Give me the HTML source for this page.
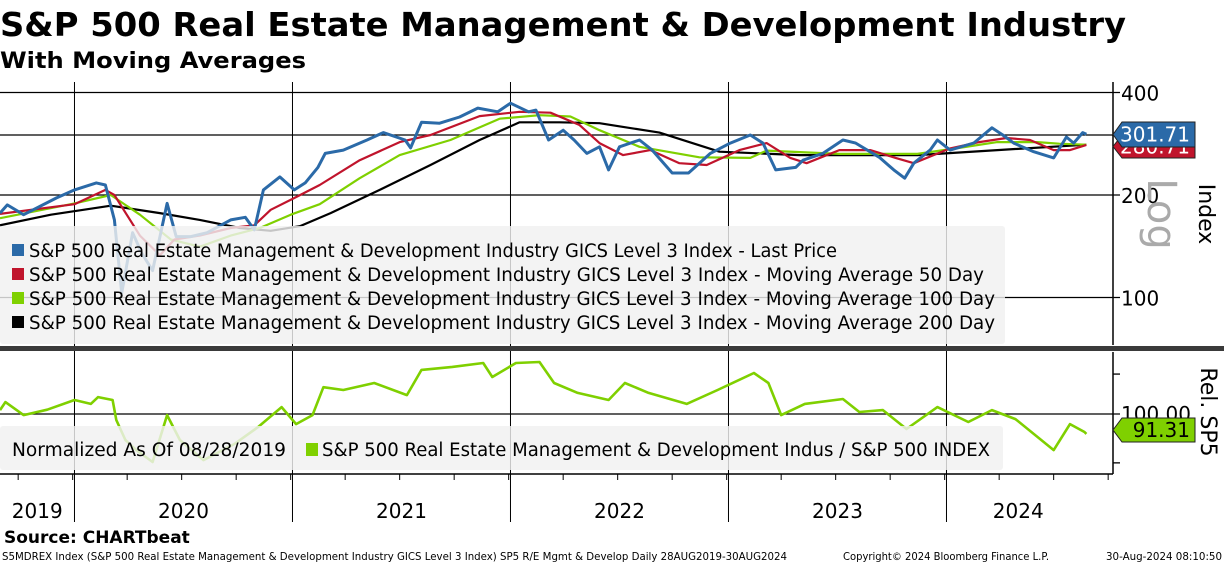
<!DOCTYPE html>
<html><head><meta charset="utf-8"><style>
body{margin:0;background:#fff;width:1224px;height:565px;overflow:hidden;font-family:"DejaVu Sans","Liberation Sans",sans-serif}
svg text{font-family:"DejaVu Sans","Liberation Sans",sans-serif}
</style></head><body>
<svg id="c" width="1224" height="565" xmlns="http://www.w3.org/2000/svg">
<text x="0" y="36" font-size="33" font-weight="bold" textLength="1126" lengthAdjust="spacingAndGlyphs">S&amp;P 500 Real Estate Management &amp; Development Industry</text>
<text x="0" y="68" font-size="22" font-weight="bold" textLength="306" lengthAdjust="spacingAndGlyphs">With Moving Averages</text>
<g id="grid"></g>
<g id="series"></g>
<g id="overlay"></g>
</svg>
<script>
const priceMonths=[0,0.4,1.3,3.1,4.1,5.3,5.8,6.3,6.7,7.3,7.8,8.4,9.2,9.7,10.5,11.4,12.7,13.5,14.0,14.5,15.4,16.2,16.8,17.5,17.9,18.9,20.2,21.1,22.3,22.6,23.2,24.2,25.3,26.3,27.4,28.1,29.1,29.5,30.2,31.0,31.6,32.3,33.0,33.5,34.1,35.2,35.9,37.0,37.9,38.5,39.1,40.2,41.3,42.0,42.7,43.8,44.2,45.3,46.4,47.1,48.4,49.2,49.8,50.3,51.2,51.6,52.3,53.6,54.6,55.2,55.8,56.9,58.0,58.7,59.1,59.6,59.8];
const priceValues=[177,187,175,196,207,217,214,169,103,155,135,120,189,151,151,155,169,172,158,207,226,207,217,241,265,271,290,305,290,275,327,325,339,360,351,372,351,355,290,310,290,265,277,237,277,290,271,232,232,248,265,284,300,284,237,241,253,265,290,284,258,237,224,248,271,290,271,284,315,300,284,268,257,296,284,305,301.71];
const ma50Months=[0,4.1,5.8,6.3,7.7,8.8,9.6,11.0,12.7,14.0,14.9,16.2,17.6,19.8,22.0,23.7,26.4,28.6,30.3,31.9,33.0,34.3,35.8,37.4,38.9,40.7,42.2,43.5,44.4,46.2,47.9,49.3,50.3,52.3,53.9,55.4,56.7,58.0,58.9,59.8];
const ma50Values=[176,188,207,200,152,133,148,152,160,163,181,196,214,253,286,300,341,351,349,321,284,262,271,248,245,271,284,257,248,271,271,257,248,274,286,294,290,271,271,280.71];
const ma100Months=[0,4.1,6.1,7.7,9.4,11.0,12.7,14.3,16.0,17.6,19.8,22.0,24.8,27.5,29.7,31.4,33.0,35.2,38.5,41.3,42.2,46.2,50.5,52.8,54.9,57.1,58.3,59.8];
const ma100Values=[171,189,200,175,148,141,152,160,175,188,224,262,290,335,343,340,310,277,258,257,270,264,264,275,286,286,283,281];
const ma200Months=[0,2.8,6.1,8.8,11.0,13.2,14.9,16.5,18.2,20.9,23.7,26.4,28.6,30.8,33.0,36.3,39.6,44.0,50.5,54.9,59.8];
const ma200Values=[163,175,186,177,169,160,157,162,177,207,245,290,327,327,325,305,268,262,262,271,281];
const relMonths=[0,0.3,1.3,2.6,4.1,5.0,5.4,6.2,6.4,6.9,7.5,8.4,9.2,9.9,11.2,12.9,14.2,15.5,16.3,17.2,17.8,18.9,20.6,22.4,23.2,24.9,26.6,27.1,28.4,29.7,30.5,31.8,33.5,34.4,35.7,37.8,39.5,41.5,42.3,43.0,44.3,46.4,47.3,48.6,49.9,51.6,53.3,54.6,55.9,58.0,58.9,59.7,59.8];
const relValues=[101.8,105.6,99.5,102,106.6,104.7,108,106.6,97.3,88.8,84.8,80.3,99.5,88.8,81,87.2,94.2,103.2,95.5,99.5,113,111.6,115.2,109,122.3,124,126.2,118.4,126.2,126.8,115.2,110.1,106.6,115.2,110.1,104.7,111.6,120.6,115.2,99.5,104.7,107.1,100.9,101.8,93.4,103.2,96.4,101.8,97.7,84.8,95.5,92.1,91.31];
const yearLabels=["2019","2020","2021","2022","2023","2024"];
const yearStartMonths=[4.1,16.1,28.1,40.1,52.1];
const topTicks=[100,200,300,400];
const topTickLabels=["100","200","","400"];
const relTicks=[80,100,120];

const NS="http://www.w3.org/2000/svg";
const X=m=>m*218/12;
const YT=v=>195-147.9*Math.log(v/200);
const YB=v=>414-219*Math.log(v/100);
function mk(tag,attrs,parent,txt){const e=document.createElementNS(NS,tag);for(const k in attrs)e.setAttribute(k,attrs[k]);if(txt!==undefined)e.textContent=txt;parent.appendChild(e);return e;}
const grid=document.getElementById('grid'),ser=document.getElementById('series'),ov=document.getElementById('overlay');

topTicks.forEach((t,i)=>{
 const l=mk('line',{x1:0,x2:1120,y1:YT(t),y2:YT(t),stroke:'#000','stroke-width':1.3},grid);
 
 
 if(topTickLabels[i]){const tx=mk('text',{x:1121,y:YT(t)+8,'font-size':20},grid,topTickLabels[i]);
 
 }
});
relTicks.forEach(t=>{
 const l=mk('line',{x1:t===100?0:1113,x2:1120,y1:YB(t),y2:YB(t),stroke:'#000','stroke-width':1.3},grid);
 
 
});
yearStartMonths.forEach(m=>{
 const l=mk('line',{x1:X(m),x2:X(m),y1:82,y2:522,stroke:'#000','stroke-width':1},grid);
 
 
});
for(let q=0;q<21;q++){const m=q*3+1;const t=mk('line',{x1:X(m),x2:X(m),y1:474,y2:480,stroke:'#000'},grid);
 
 }
const yb=[0].concat(yearStartMonths),ye=yearStartMonths.concat([60]);
yearLabels.forEach((y,i)=>{const t=mk('text',{x:X((yb[i]+ye[i])/2),y:518,'font-size':20,'text-anchor':'middle'},grid,y);
 
 });
[[0,1113,474,474],[1113,1113,82,345],[1113,1113,352,474]].forEach(a=>{const l=mk('line',{x1:a[0],x2:a[1],y1:a[2],y2:a[3],stroke:'#000','stroke-width':1.5},grid);
 
 });

function path(ms,vs,yf,color,w,name){
 const d=ms.map((m,i)=>(i?'L':'M')+X(m).toFixed(1)+','+yf(vs[i]).toFixed(1)).join('');
 const p=mk('path',{d:d,fill:'none',stroke:color,'stroke-width':w,'stroke-linejoin':'round'},ser);
 
 
}
path(ma200Months,ma200Values,YT,'#000',2.2,'ma200-line');
path(ma100Months,ma100Values,YT,'#7fd000',2.2,'ma100-line');
path(ma50Months,ma50Values,YT,'#c0142c',2.2,'ma50-line');
path(priceMonths,priceValues,YT,'#2b6aa8',3,'last-price-line');
path(relMonths,relValues,YB,'#7fd000',2.6,'relative-line');

const lg=mk('rect',{x:0,y:226,width:1005,height:118,rx:3,fill:'#f0f0f0','fill-opacity':0.82},ov);


const legNames=["Last Price","Moving Average 50 Day","Moving Average 100 Day","Moving Average 200 Day"];
const legWidths=[808,955,966,966];
const legCols=['#2b6aa8','#c0142c','#7fd000','#000'];
legNames.forEach((n,i)=>{
 const y=250+i*24;
 const s=mk('rect',{x:12,y:y-6,width:12,height:12,fill:legCols[i]},ov);
 
 
 const t=mk('text',{x:29,y:y+7,'font-size':18.5,textLength:legWidths[i],lengthAdjust:'spacingAndGlyphs'},ov,"S&P 500 Real Estate Management & Development Industry GICS Level 3 Index - "+n);
 
 
});
const lg2=mk('rect',{x:0,y:426,width:1003,height:44,rx:3,fill:'#f0f0f0','fill-opacity':0.82},ov);


const t2=mk('text',{x:12,y:456,'font-size':18.5,textLength:274,lengthAdjust:'spacingAndGlyphs'},ov,"Normalized As Of 08/28/2019");


const s2=mk('rect',{x:306,y:443,width:12,height:13,fill:'#7fd000'},ov);


const t3=mk('text',{x:322,y:456,'font-size':18.5,textLength:668,lengthAdjust:'spacingAndGlyphs'},ov,"S&P 500 Real Estate Management & Development Indus / S&P 500 INDEX");



const sep=mk('rect',{x:0,y:346,width:1224,height:5,fill:'#3a3a3a'},ov);



function tag(y,h,color,txt,name){
 const g=mk('g',{},ov);
 
 
 mk('path',{d:`M1113,${y+h/2} L1122,${y} L1195,${y} L1195,${y+h} L1122,${y+h} Z`,fill:color,stroke:'#222','stroke-width':1},g);
 mk('text',{x:1190,y:y+h/2+7,'font-size':20,'text-anchor':'end',fill:color==='#7fd000'?'#000':'#fff'},g,txt);
}
tag(135,23,'#c0142c','280.71','ma50-value-tag');
tag(122,25,'#2b6aa8','301.71','last-price-tag');
const rl=mk('text',{x:1121,y:YB(100)+7,'font-size':20},ov,'100.00');


tag(418,24,'#7fd000','91.31','rel-value-tag');

const a1=mk('text',{x:0,y:0,'font-size':22,transform:'translate(1199,214) rotate(90)','text-anchor':'middle'},ov,'Index');


const a2=mk('text',{x:0,y:0,'font-size':40,fill:'#aaa',transform:'translate(1148,214) rotate(90)','text-anchor':'middle'},ov,'Log');


const a3=mk('text',{x:0,y:0,'font-size':22,transform:'translate(1201,412) rotate(90)','text-anchor':'middle'},ov,'Rel. SP5');



const src=mk('text',{x:4,y:543,'font-size':17,'font-weight':'bold'},ov,'Source: CHARTbeat');


const f1=mk('text',{x:2,y:560,'font-size':10.5,'textLength':785,'lengthAdjust':'spacingAndGlyphs'},ov,'S5MDREX Index (S&P 500 Real Estate Management & Development Industry GICS Level 3 Index) SP5 R/E Mgmt & Develop  Daily 28AUG2019-30AUG2024');


const f2=mk('text',{x:843,y:560,'font-size':10.5,'textLength':206,'lengthAdjust':'spacingAndGlyphs'},ov,'Copyright© 2024 Bloomberg Finance L.P.');


const f3=mk('text',{x:1106,y:560,'font-size':10.5,'textLength':116,'lengthAdjust':'spacingAndGlyphs'},ov,'30-Aug-2024 08:10:50');


</script>
</body></html>
